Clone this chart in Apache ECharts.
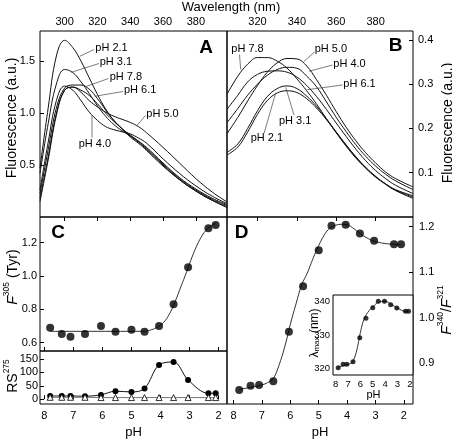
<!DOCTYPE html>
<html><head><meta charset="utf-8">
<script src="https://cdn.jsdelivr.net/npm/echarts@6/dist/echarts.min.js"></script>
<style>html,body{margin:0;padding:0;background:#fff}#c{width:452px;height:439px}</style>
</head><body><div id="c"></div>
<script>
const FONT = "'Liberation Sans', Arial, Helvetica, sans-serif";

// ---- Panel A: Tyr-excited emission spectra ----
const wlA = [285, 290, 295, 300, 305, 310, 315, 320, 325, 330, 335, 340, 345, 350, 360, 370, 380, 390, 399];
const a21 = [0.47, 1.05, 1.55, 1.70, 1.63, 1.50, 1.34, 1.18, 1.04, 0.93, 0.85, 0.79, 0.73, 0.66, 0.51, 0.37, 0.26, 0.17, 0.11];
const a31 = [0.42, 0.90, 1.28, 1.42, 1.39, 1.30, 1.19, 1.07, 0.97, 0.89, 0.83, 0.78, 0.73, 0.67, 0.52, 0.38, 0.27, 0.18, 0.12];
const a78 = [0.22, 0.65, 1.05, 1.24, 1.27, 1.27, 1.23, 1.14, 1.03, 0.93, 0.85, 0.77, 0.71, 0.64, 0.49, 0.36, 0.25, 0.16, 0.10];
const a61 = [0.18, 0.58, 1.00, 1.22, 1.25, 1.22, 1.17, 1.09, 1.00, 0.92, 0.85, 0.78, 0.72, 0.65, 0.50, 0.36, 0.25, 0.16, 0.09];
const a50 = [0.15, 0.55, 0.98, 1.22, 1.25, 1.20, 1.12, 1.06, 1.01, 0.97, 0.94, 0.91, 0.87, 0.81, 0.67, 0.52, 0.37, 0.24, 0.145];
const a40 = [0.26, 0.72, 1.12, 1.26, 1.22, 1.12, 1.01, 0.93, 0.87, 0.84, 0.82, 0.80, 0.76, 0.71, 0.56, 0.42, 0.30, 0.20, 0.13];

// ---- Panel B: Trp-excited emission spectra ----
const wlB = [304.5, 310, 315, 320, 325, 330, 335, 340, 345, 350, 355, 360, 365, 370, 375, 380, 385, 390, 399];
const b78 = [0.277, 0.318, 0.345, 0.360, 0.360, 0.352, 0.336, 0.312, 0.285, 0.255, 0.222, 0.190, 0.160, 0.133, 0.110, 0.090, 0.075, 0.062, 0.048];
const b61 = [0.243, 0.275, 0.305, 0.322, 0.329, 0.330, 0.327, 0.316, 0.297, 0.272, 0.243, 0.212, 0.182, 0.153, 0.127, 0.105, 0.087, 0.072, 0.053];
const b40 = [0.213, 0.245, 0.275, 0.300, 0.320, 0.333, 0.338, 0.336, 0.318, 0.294, 0.260, 0.225, 0.193, 0.163, 0.137, 0.115, 0.097, 0.082, 0.062];
const b50 = [0.188, 0.225, 0.262, 0.297, 0.327, 0.348, 0.358, 0.357, 0.341, 0.310, 0.275, 0.238, 0.203, 0.172, 0.145, 0.122, 0.102, 0.087, 0.068];
const b31 = [0.146, 0.165, 0.200, 0.240, 0.272, 0.290, 0.296, 0.290, 0.273, 0.250, 0.222, 0.192, 0.163, 0.136, 0.112, 0.092, 0.075, 0.061, 0.045];
const b21 = [0.140, 0.158, 0.192, 0.232, 0.263, 0.280, 0.285, 0.281, 0.267, 0.246, 0.220, 0.191, 0.162, 0.135, 0.111, 0.091, 0.074, 0.060, 0.042];

// ---- pH titration (panels C, D, inset) ----
const pH = [7.8, 7.4, 7.1, 6.6, 6.05, 5.55, 5.0, 4.55, 4.05, 3.55, 3.05, 2.35, 2.1];
const tyrF305 = [0.69, 0.652, 0.636, 0.652, 0.70, 0.666, 0.678, 0.666, 0.70, 0.83, 1.052, 1.286, 1.306];
const rs275Filled = [12, 12, 12, 11, 16, 30, 27, 40, 128, 139, 72, 22, 22];
const rs275Open = [7, 7, 7, 7, 6, 6, 6, 6, 6, 6, 6, 6, 6];
const ratio340321 = [0.841, 0.850, 0.852, 0.860, 0.969, 1.069, 1.148, 1.202, 1.204, 1.185, 1.169, 1.161, 1.161];
const lambdaMax = [320.2, 321.2, 321.2, 322, 329.2, 335, 338.2, 340.1, 340.1, 339.1, 338.1, 337.1, 337.1];

// fitted curves
const cFitPH = [7.8, 4.6, 4.3, 4.1, 3.9, 3.7, 3.5, 3.3, 3.1, 2.9, 2.7, 2.5, 2.3, 2.1];
const cFitVal = [0.668, 0.668, 0.678, 0.695, 0.72, 0.77, 0.845, 0.935, 1.025, 1.12, 1.2, 1.26, 1.295, 1.315];
const dFitPH = [7.8, 7.0, 6.8, 6.6, 6.4, 6.2, 6.0, 5.8, 5.6, 5.4, 5.2, 5.0, 4.8, 4.6, 4.4, 4.2, 4.0, 3.8, 3.55, 3.3, 3.05, 2.7, 2.35, 2.1];
const dFitVal = [0.842, 0.852, 0.857, 0.866, 0.895, 0.935, 0.985, 1.03, 1.072, 1.098, 1.13, 1.158, 1.182, 1.197, 1.203, 1.205, 1.204, 1.197, 1.185, 1.175, 1.168, 1.163, 1.161, 1.16];
const iFitPH = [7.8, 7.4, 7.0, 6.8, 6.6, 6.4, 6.2, 6.0, 5.8, 5.6, 5.4, 5.2, 5.0, 4.6, 4.0, 3.5, 3.0, 2.35, 2.1];
const iFitVal = [320.3, 320.8, 321.2, 321.5, 322.2, 324.0, 327.0, 330.8, 333.8, 335.6, 336.8, 337.7, 338.4, 339.7, 340.1, 339.2, 338.1, 337.1, 337.1];

// tick labels
const wlTicksA = [300, 320, 340, 360, 380];
const wlTicksB = [320, 340, 360, 380];
const pHTicks = [2, 3, 4, 5, 6, 7, 8];
const yTicksA = [0.5, 1.0, 1.5];
const yTicksB = [0.1, 0.2, 0.3, 0.4];
const yTicksC = [0.6, 0.8, 1.0, 1.2];
const yTicksRS = [0, 50, 100, 150];
const yTicksD = [0.9, 1.0, 1.1, 1.2];
const yTicksIn = [320, 330, 340];

const zip = (xs, ys) => xs.map((x, i) => [x, ys[i]]);
const f1 = v => Number(v).toFixed(1);

function axis(o) {
  return {
    type: 'value', gridIndex: o.g, min: o.min, max: o.max, position: o.pos, inverse: !!o.inv,
    axisLine: { show: false }, splitLine: { show: false },
    axisTick: { show: true, inside: true, length: o.tl || 4, lineStyle: { color: '#000', width: 1 }, customValues: o.ticks },
    axisLabel: { show: !!o.labels, customValues: o.ticks, margin: o.margin || 5, color: '#000',
      fontSize: o.fs || 11, fontFamily: FONT, formatter: o.fmt || (v => String(v)) }
  };
}
const gridBase = { show: true, borderColor: '#000', borderWidth: 1, backgroundColor: 'transparent', containLabel: false, outerBoundsMode: 'none' };

function specSeries(xi, yi, xs, ys) {
  return { type: 'line', xAxisIndex: xi, yAxisIndex: yi, data: zip(xs, ys), showSymbol: false, smooth: 0.4,
    lineStyle: { color: '#111', width: 1 }, silent: true, animation: false };
}

const series = [
  specSeries(0, 0, wlA, a21), specSeries(0, 0, wlA, a31), specSeries(0, 0, wlA, a78),
  specSeries(0, 0, wlA, a61), specSeries(0, 0, wlA, a50), specSeries(0, 0, wlA, a40),
  specSeries(1, 1, wlB, b78), specSeries(1, 1, wlB, b61), specSeries(1, 1, wlB, b40),
  specSeries(1, 1, wlB, b50), specSeries(1, 1, wlB, b31), specSeries(1, 1, wlB, b21),
  { type: 'line', xAxisIndex: 2, yAxisIndex: 2, data: zip(cFitPH, cFitVal), showSymbol: false, smooth: 0.4,
    lineStyle: { color: '#333', width: 1 }, animation: false },
  { type: 'scatter', xAxisIndex: 2, yAxisIndex: 2, data: zip(pH, tyrF305), symbol: 'circle', symbolSize: 8,
    itemStyle: { color: '#000' }, animation: false, z: 4 },
  { type: 'line', xAxisIndex: 3, yAxisIndex: 3, data: zip(pH, rs275Filled), symbol: 'circle', symbolSize: 6, smooth: 0.35,
    lineStyle: { color: '#111', width: 1 }, itemStyle: { color: '#000' }, animation: false, z: 3 },
  { type: 'line', xAxisIndex: 3, yAxisIndex: 3, data: zip(pH, rs275Open), symbol: 'triangle', symbolSize: 6,
    lineStyle: { color: '#777', width: 1 }, itemStyle: { color: '#fff', borderColor: '#000', borderWidth: 0.8 }, animation: false, z: 4 },
  { type: 'line', xAxisIndex: 4, yAxisIndex: 4, data: zip(dFitPH, dFitVal), showSymbol: false, smooth: 0.4,
    lineStyle: { color: '#333', width: 1 }, animation: false },
  { type: 'scatter', xAxisIndex: 4, yAxisIndex: 4, data: zip(pH, ratio340321), symbol: 'circle', symbolSize: 8,
    itemStyle: { color: '#000' }, animation: false, z: 4 },
  { type: 'line', xAxisIndex: 5, yAxisIndex: 5, data: zip(iFitPH, iFitVal), showSymbol: false, smooth: 0.4,
    lineStyle: { color: '#333', width: 1 }, animation: false, z: 6 },
  { type: 'scatter', xAxisIndex: 5, yAxisIndex: 5, data: zip(pH, lambdaMax), symbol: 'circle', symbolSize: 5,
    itemStyle: { color: '#000' }, animation: false, z: 7 }
];

function txt(x, y, text, opt) {
  opt = opt || {};
  return { type: 'text', x: x, y: y, z: 100, style: { text: text, fill: '#000', font: (opt.w || 'normal') + ' ' + (opt.fs || 11) + 'px ' + FONT,
    align: opt.align || 'left', verticalAlign: 'middle' } };
}
function ln(x1, y1, x2, y2) {
  return { type: 'line', z: 100, shape: { x1: x1, y1: y1, x2: x2, y2: y2 }, style: { stroke: '#444', lineWidth: 0.7 } };
}
function vtext(x, y, rich, text) {
  return { type: 'group', x: x, y: y, rotation: Math.PI / 2, z: 100,
    children: [{ type: 'text', style: { text: text, rich: rich, align: 'center', verticalAlign: 'middle', fill: '#000', font: '13px ' + FONT } }] };
}
const richT = {
  m: { fontSize: 14, fontFamily: FONT, verticalAlign: 'bottom', lineHeight: 18 },
  i: { fontSize: 14, fontFamily: FONT, fontStyle: 'italic', verticalAlign: 'bottom', lineHeight: 18 },
  s: { fontSize: 8.5, fontFamily: FONT, verticalAlign: 'top', lineHeight: 18 },
  l: { fontSize: 12, fontFamily: FONT, verticalAlign: 'bottom', lineHeight: 16 },
  sub: { fontSize: 8, fontFamily: FONT, verticalAlign: 'bottom', lineHeight: 14 }
};

const graphic = [
  txt(231, 7, 'Wavelength (nm)', { fs: 13, align: 'center' }),
  vtext(10, 118, richT, '{m|Fluorescence (a.u.)}'),
  vtext(446, 123, richT, '{m|Fluorescence (a.u.)}'),
  vtext(11, 277, richT, '{i|F}{s|305}{m|\u00a0(Tyr)}'),
  vtext(11, 376, richT, '{m|RS}{s|275}'),
  vtext(445, 310, richT, '{i|F}{s|340}{m|/}{i|F}{s|321}'),
  vtext(313, 333, richT, '{l|λ}{sub|max}{l|\u00a0(nm)}'),
  txt(133.5, 432, 'pH', { fs: 13, align: 'center' }),
  txt(320, 432, 'pH', { fs: 13, align: 'center' }),
  txt(373.5, 395, 'pH', { fs: 11, align: 'center' }),
  txt(206, 48, 'A', { fs: 19, w: 'bold', align: 'center' }),
  txt(395.7, 46, 'B', { fs: 19, w: 'bold', align: 'center' }),
  txt(58, 233, 'C', { fs: 19, w: 'bold', align: 'center' }),
  txt(241.7, 233, 'D', { fs: 19, w: 'bold', align: 'center' }),
  // panel A labels
  txt(95.3, 48, 'pH 2.1'), ln(94, 49.5, 79.7, 56.3),
  txt(99.7, 62, 'pH 3.1'), ln(99, 63.5, 71.3, 72.3),
  txt(109.7, 77, 'pH 7.8'), ln(108.5, 78.5, 86, 86.5),
  txt(124, 90.3, 'pH 6.1'), ln(123, 91.5, 94.7, 96.3),
  txt(146.3, 113.7, 'pH 5.0'), ln(145.5, 115.5, 136.3, 126.3),
  txt(78.7, 143.7, 'pH 4.0'), ln(92, 137.5, 92, 115.3),
  // panel B labels
  txt(231.3, 48.7, 'pH 7.8'), ln(239.5, 54.5, 240.7, 69.5),
  txt(314.7, 48.7, 'pH 5.0'), ln(314.5, 52, 304, 61.3),
  txt(333.3, 63.7, 'pH 4.0'), ln(332.5, 65, 309, 71.3),
  txt(343.3, 84, 'pH 6.1'), ln(342.5, 85, 307.3, 89.7),
  txt(279, 120.7, 'pH 3.1'), ln(294, 115, 285.7, 87.3),
  txt(250.7, 138.3, 'pH 2.1'), ln(264, 133.5, 275.7, 93)
];

const option = {
  animation: false,
  backgroundColor: '#fff',
  textStyle: { fontFamily: FONT },
  grid: [
    Object.assign({}, gridBase, { left: 40, top: 31, width: 187, height: 186 }),
    Object.assign({}, gridBase, { left: 227, top: 31, width: 186, height: 186 }),
    Object.assign({}, gridBase, { left: 40, top: 217, width: 187, height: 134 }),
    Object.assign({}, gridBase, { left: 40, top: 351, width: 187, height: 53 }),
    Object.assign({}, gridBase, { left: 227, top: 217, width: 186, height: 187 }),
    Object.assign({}, gridBase, { left: 333, top: 295, width: 80, height: 80, backgroundColor: '#fff', z: 5 })
  ],
  xAxis: [
    axis({ g: 0, min: 285, max: 399, pos: 'top', ticks: wlTicksA, labels: true, margin: 4 }),
    axis({ g: 1, min: 304.5, max: 399, pos: 'top', ticks: wlTicksB, labels: true, margin: 4 }),
    axis({ g: 2, min: 1.71, max: 8.15, pos: 'bottom', inv: true, ticks: pHTicks, labels: false }),
    axis({ g: 3, min: 1.71, max: 8.15, pos: 'bottom', inv: true, ticks: pHTicks, labels: true, margin: 6 }),
    axis({ g: 4, min: 1.68, max: 8.23, pos: 'bottom', inv: true, ticks: pHTicks, labels: true, margin: 6 }),
    axis({ g: 5, min: 1.74, max: 8.22, pos: 'bottom', inv: true, ticks: pHTicks, labels: true, margin: 4, fs: 9.5, tl: 3 })
  ],
  yAxis: [
    axis({ g: 0, min: 0, max: 1.79, pos: 'left', ticks: yTicksA, labels: true, fmt: f1, margin: 5 }),
    axis({ g: 1, min: 0, max: 0.42, pos: 'right', ticks: yTicksB, labels: true, fmt: f1, margin: 5 }),
    axis({ g: 2, min: 0.55, max: 1.354, pos: 'left', ticks: yTicksC, labels: true, fmt: f1, margin: 3 }),
    axis({ g: 3, min: -18, max: 180, pos: 'left', ticks: yTicksRS, labels: true, margin: 2 }),
    axis({ g: 4, min: 0.81, max: 1.221, pos: 'right', ticks: yTicksD, labels: true, fmt: f1, margin: 6 }),
    axis({ g: 5, min: 318, max: 342, pos: 'left', ticks: yTicksIn, labels: true, margin: 3, fs: 9.5, tl: 3 })
  ],
  series: series,
  graphic: graphic
};
const chart = echarts.init(document.getElementById('c'));
chart.setOption(option);
</script></body></html>
